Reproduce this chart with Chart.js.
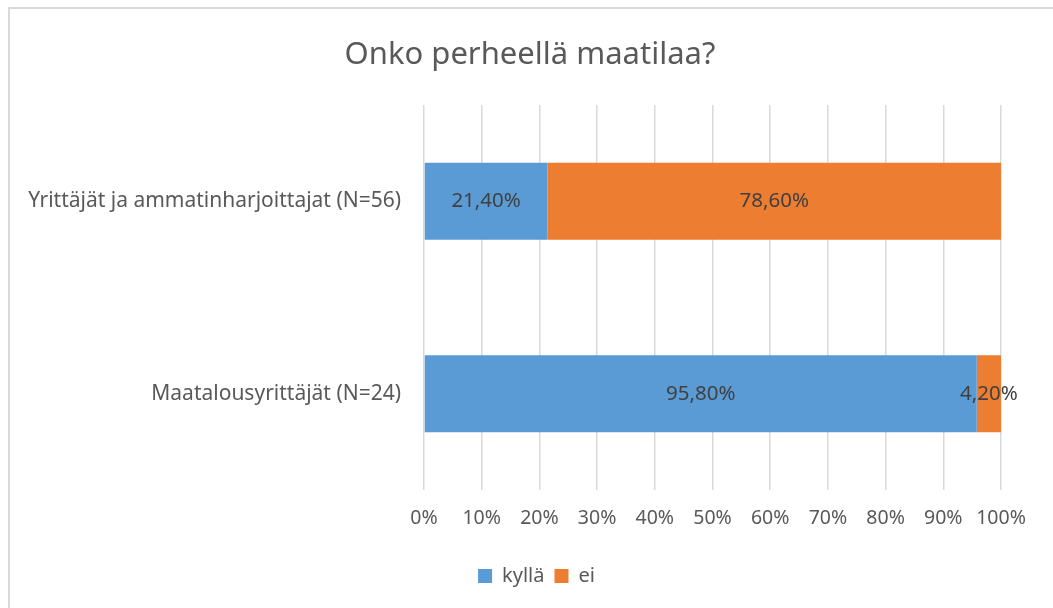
<!DOCTYPE html>
<html>
<head>
<meta charset="utf-8">
<script src="https://cdn.jsdelivr.net/npm/chart.js@4"></script>
<style>
  html, body { margin: 0; padding: 0; background: #fff; overflow: hidden; }
  #wrap { position: relative; width: 1053px; height: 608px; }
  #frame { position: absolute; left: 8px; top: 7px; width: 1100px; height: 700px; border: 2px solid #d9d9d9; box-sizing: border-box; }
  canvas { position: absolute; left: 0; top: 0; }
</style>
</head>
<body>
<div id="wrap">
  <div id="frame"></div>
  <canvas id="chart" width="1053" height="608"></canvas>
</div>
<script>
var titleText = 'Onko perheellä maatilaa?';
var categories = ['Yrittäjät ja ammatinharjoittajat (N=56)', 'Maatalousyrittäjät (N=24)'];
var seriesNames = ['kyllä', 'ei'];
var kylla = [21.4, 95.8];
var ei = [78.6, 4.2];
var tickLabels = ['0%', '10%', '20%', '30%', '40%', '50%', '60%', '70%', '80%', '90%', '100%'];

var fontFam = '"Noto Sans", "Open Sans", sans-serif';

function fmt(v) {
  return v.toFixed(2).replace('.', ',') + '%';
}

// data labels in the middle of each segment
var valueLabels = {
  id: 'valueLabels',
  afterDatasetsDraw: function(chart) {
    var ctx = chart.ctx;
    ctx.save();
    ctx.font = '20.5px ' + fontFam;
    ctx.fillStyle = '#404040';
    ctx.textAlign = 'center';
    ctx.textBaseline = 'middle';
    chart.data.datasets.forEach(function(ds, i) {
      chart.getDatasetMeta(i).data.forEach(function(bar, j) {
        var p = bar.getProps(['x', 'y', 'base'], true);
        ctx.fillText(fmt(ds.data[j]), (p.x + p.base) / 2, p.y);
      });
    });
    ctx.restore();
  }
};

var titleDraw = {
  id: 'titleDraw',
  afterLayout: function(chart) {
    // centre legend under the whole frame, not only the padded box
    chart.legend.left += 36;
    chart.legend.right += 36;
  },
  afterDraw: function(chart) {
    var ctx = chart.ctx;
    ctx.save();
    ctx.font = '31px ' + fontFam;
    ctx.fillStyle = '#595959';
    ctx.textAlign = 'center';
    ctx.textBaseline = 'middle';
    ctx.fillText(titleText, 530, 55);
    ctx.restore();
  }
};

new Chart(document.getElementById('chart').getContext('2d'), {
  type: 'bar',
  data: {
    labels: categories,
    datasets: [
      { label: seriesNames[0], data: kylla, backgroundColor: '#5b9bd5', barPercentage: 0.4, categoryPercentage: 1 },
      { label: seriesNames[1], data: ei, backgroundColor: '#ed7d31', barPercentage: 0.4, categoryPercentage: 1 }
    ]
  },
  options: {
    indexAxis: 'y',
    responsive: false,
    animation: false,
    layout: { padding: { top: 105, right: 52, bottom: 12, left: 0 } },
    plugins: {
      legend: {
        position: 'bottom',
        labels: {
          boxWidth: 14, boxHeight: 14, padding: 10,
          color: '#595959',
          font: { size: 20, family: fontFam }
        }
      },
      tooltip: { enabled: false }
    },
    scales: {
      x: {
        stacked: true,
        min: 0, max: 100,
        afterBuildTicks: function(s) {
          s.ticks = tickLabels.map(function(t, i) { return { value: i * 10 }; });
        },
        afterFit: function(s) { s.height = 66; },
        grid: { color: '#d9d9d9', lineWidth: 1.5, drawTicks: false },
        border: { display: false },
        ticks: {
          padding: 17,
          color: '#595959',
          font: { size: 19.5, family: fontFam },
          callback: function(v, i) { return tickLabels[i]; }
        }
      },
      y: {
        stacked: true,
        afterFit: function(s) { s.width = 424; },
        grid: { display: false, drawTicks: false },
        border: { display: false },
        ticks: {
          padding: 23,
          color: '#595959',
          font: { size: 21, family: fontFam }
        }
      }
    }
  },
  plugins: [valueLabels, titleDraw]
});
</script>
</body>
</html>
